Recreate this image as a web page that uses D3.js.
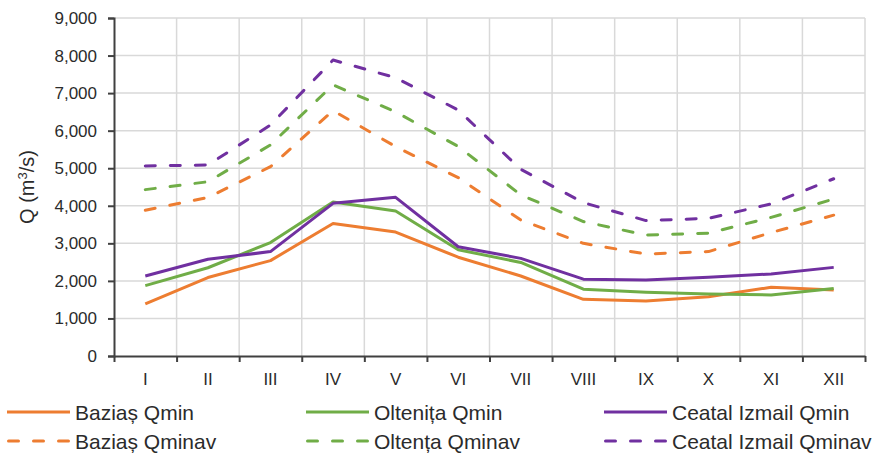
<!DOCTYPE html>
<html>
<head>
<meta charset="utf-8">
<script src="https://cdn.jsdelivr.net/npm/d3@7"></script>
<style>
  html, body { margin: 0; padding: 0; background: #fff; }
  svg { display: block; font-family: "Liberation Sans", Arial, sans-serif; }
</style>
</head>
<body>
<svg id="chart" width="883" height="454"></svg>
<script>
// Monthly discharge (m³/s) on the Danube: minimum and mean-minimum flows
const months = ["I", "II", "III", "IV", "V", "VI", "VII", "VIII", "IX", "X", "XI", "XII"];
const yTicks = [0, 1000, 2000, 3000, 4000, 5000, 6000, 7000, 8000, 9000];

const baziasQmin      = [1390, 2090, 2540, 3530, 3300, 2630, 2130, 1510, 1465, 1580, 1830, 1760];
const oltenitaQmin    = [1875, 2350, 3020, 4100, 3860, 2830, 2490, 1780, 1700, 1650, 1625, 1800];
const ceatalQmin      = [2130, 2575, 2780, 4065, 4225, 2910, 2600, 2045, 2025, 2095, 2185, 2360];
const baziasQminav    = [3880, 4220, 5040, 6535, 5575, 4750, 3620, 3000, 2715, 2780, 3285, 3750];
const oltenitaQminav  = [4430, 4640, 5620, 7220, 6500, 5580, 4290, 3580, 3220, 3270, 3690, 4180];
const ceatalQminav    = [5060, 5085, 6150, 7880, 7410, 6550, 4970, 4085, 3605, 3665, 4050, 4720];

const seriesNames = ["Baziaș Qmin", "Oltenița Qmin", "Ceatal Izmail Qmin",
                     "Baziaș Qminav", "Oltența Qminav", "Ceatal Izmail Qminav"];
const seriesValues = [baziasQmin, oltenitaQmin, ceatalQmin, baziasQminav, oltenitaQminav, ceatalQminav];
const seriesColors = ["#ED7D31", "#70AD47", "#7030A0", "#ED7D31", "#70AD47", "#7030A0"];
const seriesDashed = [false, false, false, true, true, true];

const svg = d3.select("#chart");
const plot = { left: 114, right: 865, top: 18, bottom: 356 };
const textColor = "#2b2b2b";

const x = d3.scaleBand().domain(months).range([plot.left, plot.right]).padding(0);
const xEdge = d3.scaleLinear().domain([0, months.length]).range([plot.left, plot.right]);
const y = d3.scaleLinear().domain([0, 9000]).range([plot.bottom, plot.top]);

// Gridlines
const grid = svg.append("g").attr("stroke", "#d9d9d9").attr("stroke-width", 1.5);
grid.selectAll("line.h").data(yTicks.filter(d => d > 0)).join("line")
  .attr("x1", plot.left).attr("x2", plot.right)
  .attr("y1", d => y(d)).attr("y2", d => y(d));
grid.selectAll("line.v").data(d3.range(1, months.length + 1)).join("line")
  .attr("x1", d => xEdge(d)).attr("x2", d => xEdge(d))
  .attr("y1", plot.top).attr("y2", plot.bottom);

// Series lines
const line = d3.line()
  .x((d, i) => x(months[i]) + x.bandwidth() / 2)
  .y(d => y(d));

svg.append("g").selectAll("path").data(seriesValues).join("path")
  .attr("d", d => line(d))
  .attr("fill", "none")
  .attr("stroke", (d, i) => seriesColors[i])
  .attr("stroke-width", 3)
  .attr("stroke-linecap", (d, i) => seriesDashed[i] ? "round" : "butt")
  .attr("stroke-linejoin", "round")
  .attr("stroke-dasharray", (d, i) => seriesDashed[i] ? "10,15" : null);

// Y axis
const yAxis = svg.append("g")
  .attr("transform", `translate(${plot.left},0)`)
  .call(d3.axisLeft(y).tickValues(yTicks).tickFormat(d3.format(",")).tickSize(6).tickPadding(11));
yAxis.select(".domain").attr("stroke", "#404040").attr("stroke-width", 2);
yAxis.selectAll(".tick line").attr("stroke", "#404040").attr("stroke-width", 2);
yAxis.selectAll("text").attr("fill", textColor).attr("font-size", 17)
  .attr("font-family", "Liberation Sans, Arial, sans-serif");

// X axis: tick marks on band edges, labels on band centres
const xMarks = svg.append("g")
  .attr("transform", `translate(0,${plot.bottom})`)
  .call(d3.axisBottom(xEdge).tickValues(d3.range(0, months.length + 1)).tickFormat("").tickSize(6).tickSizeOuter(0));
xMarks.select(".domain").attr("stroke", "#404040").attr("stroke-width", 2);
xMarks.selectAll(".tick line").attr("stroke", "#404040").attr("stroke-width", 2);

const xLabels = svg.append("g")
  .attr("transform", `translate(0,${plot.bottom})`)
  .call(d3.axisBottom(x).tickSize(0).tickPadding(17));
xLabels.select(".domain").remove();
xLabels.selectAll("text").attr("fill", textColor).attr("font-size", 17)
  .attr("font-family", "Liberation Sans, Arial, sans-serif");

// Y axis title
const yTitle = svg.append("text")
  .attr("transform", `translate(34,${(plot.top + plot.bottom) / 2}) rotate(-90)`)
  .attr("text-anchor", "middle")
  .attr("fill", textColor)
  .attr("font-size", 20);
yTitle.append("tspan").text("Q (m");
yTitle.append("tspan").text("3").attr("font-size", 13).attr("dy", -7);
yTitle.append("tspan").text("/s)").attr("dy", 7);

// Legend: two rows, three columns
const legendCols = [7, 306, 604];
const legendRows = [412, 441];
const legend = svg.append("g");
seriesNames.forEach((name, i) => {
  const cx = legendCols[i % 3];
  const cy = legendRows[Math.floor(i / 3)];
  legend.append("line")
    .attr("x1", seriesDashed[i] ? cx + 1.5 : cx).attr("x2", seriesDashed[i] ? cx + 62 : cx + 63)
    .attr("y1", cy).attr("y2", cy)
    .attr("stroke", seriesColors[i]).attr("stroke-width", 3)
    .attr("stroke-linecap", seriesDashed[i] ? "round" : "butt")
    .attr("stroke-dasharray", seriesDashed[i] ? "10,15" : null);
  legend.append("text")
    .attr("x", cx + 68).attr("y", cy + 7.5)
    .attr("fill", textColor).attr("font-size", 21)
    .text(name);
});
</script>
</body>
</html>
